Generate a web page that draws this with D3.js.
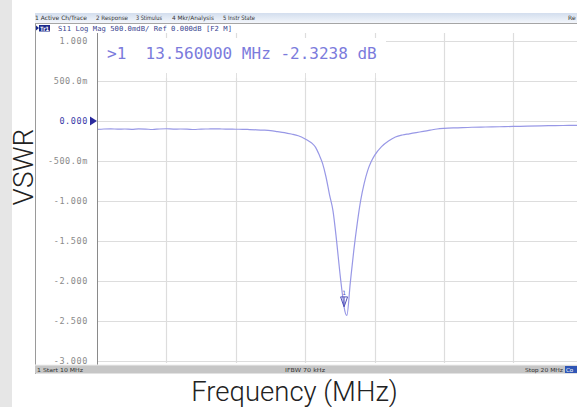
<!DOCTYPE html>
<html>
<head>
<meta charset="utf-8">
<script src="https://cdn.jsdelivr.net/npm/d3@7"></script>
<style>
  html, body { margin: 0; padding: 0; background: #fff; }
  svg { display: block; }
</style>
</head>
<body>
<script>
// ---------- data ----------
const freqMHz = [10.0,10.1,10.2,10.3,10.4,10.5,10.6,10.7,10.8,10.9,11.0,11.1,11.2,11.3,11.4,11.5,11.6,11.7,11.8,11.9,
  12.0,12.1,12.2,12.3,12.4,12.5,12.6,12.7,12.8,12.9,13.0,13.05,13.1,13.15,13.2,13.25,13.3,13.35,13.4,13.45,13.5,13.55,13.56,
  13.6,13.65,13.7,13.75,13.8,13.85,13.9,13.95,14.0,14.1,14.2,14.3,14.4,14.5,14.6,14.7,14.8,14.9,15.0,15.2,15.4,15.6,15.8,
  16.0,16.2,16.4,16.6,16.8,17.0];
const s11dB = [-0.105,-0.100,-0.098,-0.102,-0.100,-0.104,-0.099,-0.101,-0.106,-0.100,-0.097,-0.101,-0.100,-0.102,-0.106,-0.101,-0.100,-0.099,-0.100,-0.101,
  -0.103,-0.104,-0.107,-0.110,-0.114,-0.120,-0.132,-0.145,-0.163,-0.185,-0.225,-0.25,-0.28,-0.33,-0.42,-0.53,-0.70,-0.92,-1.12,-1.48,-1.90,-2.26,-2.3238,
  -2.43,-2.02,-1.62,-1.28,-0.99,-0.78,-0.62,-0.51,-0.43,-0.32,-0.25,-0.20,-0.175,-0.16,-0.145,-0.13,-0.115,-0.10,-0.092,-0.085,-0.078,-0.075,-0.072,
  -0.068,-0.064,-0.060,-0.058,-0.055,-0.053];
const markerFreq = 13.56;
const markerDB = -2.3238;
const yTicks = [1, 0.5, 0, -0.5, -1, -1.5, -2, -2.5, -3];
const yTickLabels = ["1.000","500.0m","0.000","-500.0m","-1.000","-1.500","-2.000","-2.500","-3.000"];
const xTicks = [10,11,12,13,14,15,16,17,18,19,20];
const menuItems = ["1 Active Ch/Trace","2 Response","3 Stimulus","4 Mkr/Analysis","5 Instr State"];
const xTitle = "Frequency (MHz)";
const yTitle = "VSWR";

// ---------- layout ----------
const W = 577, H = 407;
const svg = d3.select("body").append("svg").attr("width", W).attr("height", H);

const x = d3.scaleLinear().domain([10, 20]).range([97, 791]);
const y = d3.scaleLinear().domain([-3, 1]).range([361, 41]);

svg.append("rect").attr("width", W).attr("height", H).attr("fill", "#fff");
// left grey strip
svg.append("rect").attr("x", 0).attr("y", 0).attr("width", 12).attr("height", H).attr("fill", "#e6e6e6");

const mono = "'DejaVu Sans Mono', 'Liberation Mono', monospace";
const sans = "'DejaVu Sans', 'Open Sans', sans-serif";

svg.append("clipPath").attr("id", "plotclip").append("rect")
  .attr("x", 97).attr("y", 33).attr("width", W - 97).attr("height", 332);

const plot = svg.append("g").attr("clip-path", "url(#plotclip)");

// horizontal grid
plot.append("g").selectAll("line").data(yTicks).join("line")
  .attr("x1", 97).attr("x2", W).attr("y1", d => y(d) + 0.5).attr("y2", d => y(d) + 0.5)
  .attr("stroke", "#dddddd").attr("stroke-width", 1);
// vertical grid
plot.append("g").selectAll("line").data(xTicks.slice(1)).join("line")
  .attr("x1", d => Math.round(x(d)) + 0.5).attr("x2", d => Math.round(x(d)) + 0.5)
  .attr("y1", 33).attr("y2", 363)
  .attr("stroke", "#dddddd").attr("stroke-width", 1.2);

// readout box covering grid
plot.append("rect").attr("x", 98).attr("y", 38).attr("width", 288).attr("height", 40).attr("fill", "#fff");
plot.append("g").selectAll("line").data(xTicks.slice(1, 5)).join("line")
  .attr("x1", d => Math.round(x(d)) + 0.5).attr("x2", d => Math.round(x(d)) + 0.5)
  .attr("y1", 73).attr("y2", 78).attr("stroke", "#e0e0e0");

// trace
const line = d3.line().x((d, i) => x(freqMHz[i])).y(d => y(d)).curve(d3.curveMonotoneX);
plot.append("path").datum(s11dB).attr("d", line)
  .attr("fill", "none").attr("stroke", "#9898e6").attr("stroke-width", 1.2);

// marker
const mx = x(markerFreq), my = y(markerDB);
plot.append("path")
  .attr("d", `M${mx},${my} L${mx - 3.5},${my - 10} L${mx + 3.5},${my - 10} Z M${mx},${my - 10} L${mx},${my - 2}`)
  .attr("fill", "none").attr("stroke", "#5050b8").attr("stroke-width", 1);
plot.append("text").attr("x", mx).attr("y", my - 12).attr("text-anchor", "middle")
  .attr("font-family", mono).attr("font-size", 6).attr("fill", "#5050b8").text("1");

// readout text
svg.append("text").attr("x", 107).attr("y", 59)
  .attr("font-family", mono).attr("font-size", 16).attr("fill", "#7b7bdc")
  .attr("xml:space", "preserve").style("white-space", "pre")
  .text(">1  13.560000 MHz -2.3238 dB");

// y axis labels
const yAxis = d3.axisLeft(y).tickValues(yTicks).tickFormat((d, i) => yTickLabels[i]).tickSize(0).tickPadding(9);
const gy = svg.append("g").attr("transform", "translate(97,0)").call(yAxis);
gy.select(".domain").remove();
gy.selectAll("text").attr("font-family", mono).attr("font-size", 8.5).attr("letter-spacing", 0.6)
  .attr("fill", (d) => d === 0 ? "#3a3aa8" : "#8a8a8a");
// reference triangle
svg.append("path").attr("d", `M90,${y(0) - 4.5} L97,${y(0)} L90,${y(0) + 4.5} Z`).attr("fill", "#2a2a9e");

// plot left border + screenshot left border
svg.append("line").attr("x1", 97.5).attr("x2", 97.5).attr("y1", 33).attr("y2", 365).attr("stroke", "#8a8a8a");
svg.append("line").attr("x1", 35.5).attr("x2", 35.5).attr("y1", 23).attr("y2", 374).attr("stroke", "#9a9a9a");

// menu bar
const grad = svg.append("defs").append("linearGradient").attr("id", "menuGrad").attr("x1", 0).attr("x2", 0).attr("y1", 0).attr("y2", 1);
grad.append("stop").attr("offset", "0%").attr("stop-color", "#d3deee");
grad.append("stop").attr("offset", "100%").attr("stop-color", "#f3f6fb");
svg.append("rect").attr("x", 35).attr("y", 13).attr("width", W - 35).attr("height", 10).attr("fill", "url(#menuGrad)");
svg.append("line").attr("x1", 35).attr("x2", W).attr("y1", 23.5).attr("y2", 23.5).attr("stroke", "#a5a5a5");
const menuX = [35, 96, 136, 172, 223];
const menuW = [52, 32, 26, 42, 32];
svg.append("g").selectAll("text").data(menuItems).join("text")
  .attr("x", (d, i) => menuX[i]).attr("y", 20)
  .attr("textLength", (d, i) => menuW[i]).attr("lengthAdjust", "spacingAndGlyphs")
  .attr("font-family", sans).attr("font-size", 6).attr("fill", "#333").text(d => d);
svg.append("text").attr("x", 568).attr("y", 20).attr("font-family", sans).attr("font-size", 6).attr("fill", "#333").text("Re");

// trace header
svg.append("path").attr("d", "M36,25.5 L39,28 L36,30.5 Z").attr("fill", "#1b2a8c");
svg.append("rect").attr("x", 39).attr("y", 25).attr("width", 11).attr("height", 6.5).attr("fill", "#1b2a8c");
svg.append("text").attr("x", 40).attr("y", 30.5).attr("font-family", mono).attr("font-size", 6).attr("font-weight", "bold")
  .attr("fill", "#fff").attr("textLength", 9).text("Tr1");
svg.append("text").attr("x", 58).attr("y", 31).attr("font-family", mono).attr("font-size", 7)
  .attr("fill", "#3a4590").attr("textLength", 174).attr("lengthAdjust", "spacingAndGlyphs")
  .text("S11 Log Mag 500.0mdB/ Ref 0.000dB [F2 M]");

// bottom status bar
svg.append("rect").attr("x", 35).attr("y", 365).attr("width", W - 35).attr("height", 8.5).attr("fill", "#c6c6c6");
svg.append("line").attr("x1", 35).attr("x2", W).attr("y1", 365).attr("y2", 365).attr("stroke", "#eeeeee");
const statusBar = [["1  Start 10 MHz", 37, 46], ["IFBW 70 kHz", 285, 40], ["Stop 20 MHz", 525, 38]];
svg.append("g").selectAll("text").data(statusBar).join("text")
  .attr("x", d => d[1]).attr("y", 371.5).attr("textLength", d => d[2]).attr("lengthAdjust", "spacingAndGlyphs")
  .attr("font-family", sans).attr("font-size", 5.5).attr("fill", "#333").text(d => d[0]);
svg.append("rect").attr("x", 565).attr("y", 366).attr("width", 12).attr("height", 7).attr("fill", "#2f55b5");
svg.append("text").attr("x", 566).attr("y", 371.5).attr("font-family", sans).attr("font-size", 5.5).attr("fill", "#fff").text("Co");

// axis titles
svg.append("text").attr("x", 294.5).attr("y", 401).attr("text-anchor", "middle")
  .attr("font-family", "Roboto, 'Open Sans', sans-serif").attr("font-weight", 300).attr("font-size", 27.5)
  .attr("fill", "#222").text(xTitle);
svg.append("text").attr("transform", "translate(33,167) rotate(-90)").attr("text-anchor", "middle")
  .attr("font-family", "Roboto, 'Open Sans', sans-serif").attr("font-weight", 300).attr("font-size", 28)
  .attr("fill", "#222").text(yTitle);
</script>
</body>
</html>
